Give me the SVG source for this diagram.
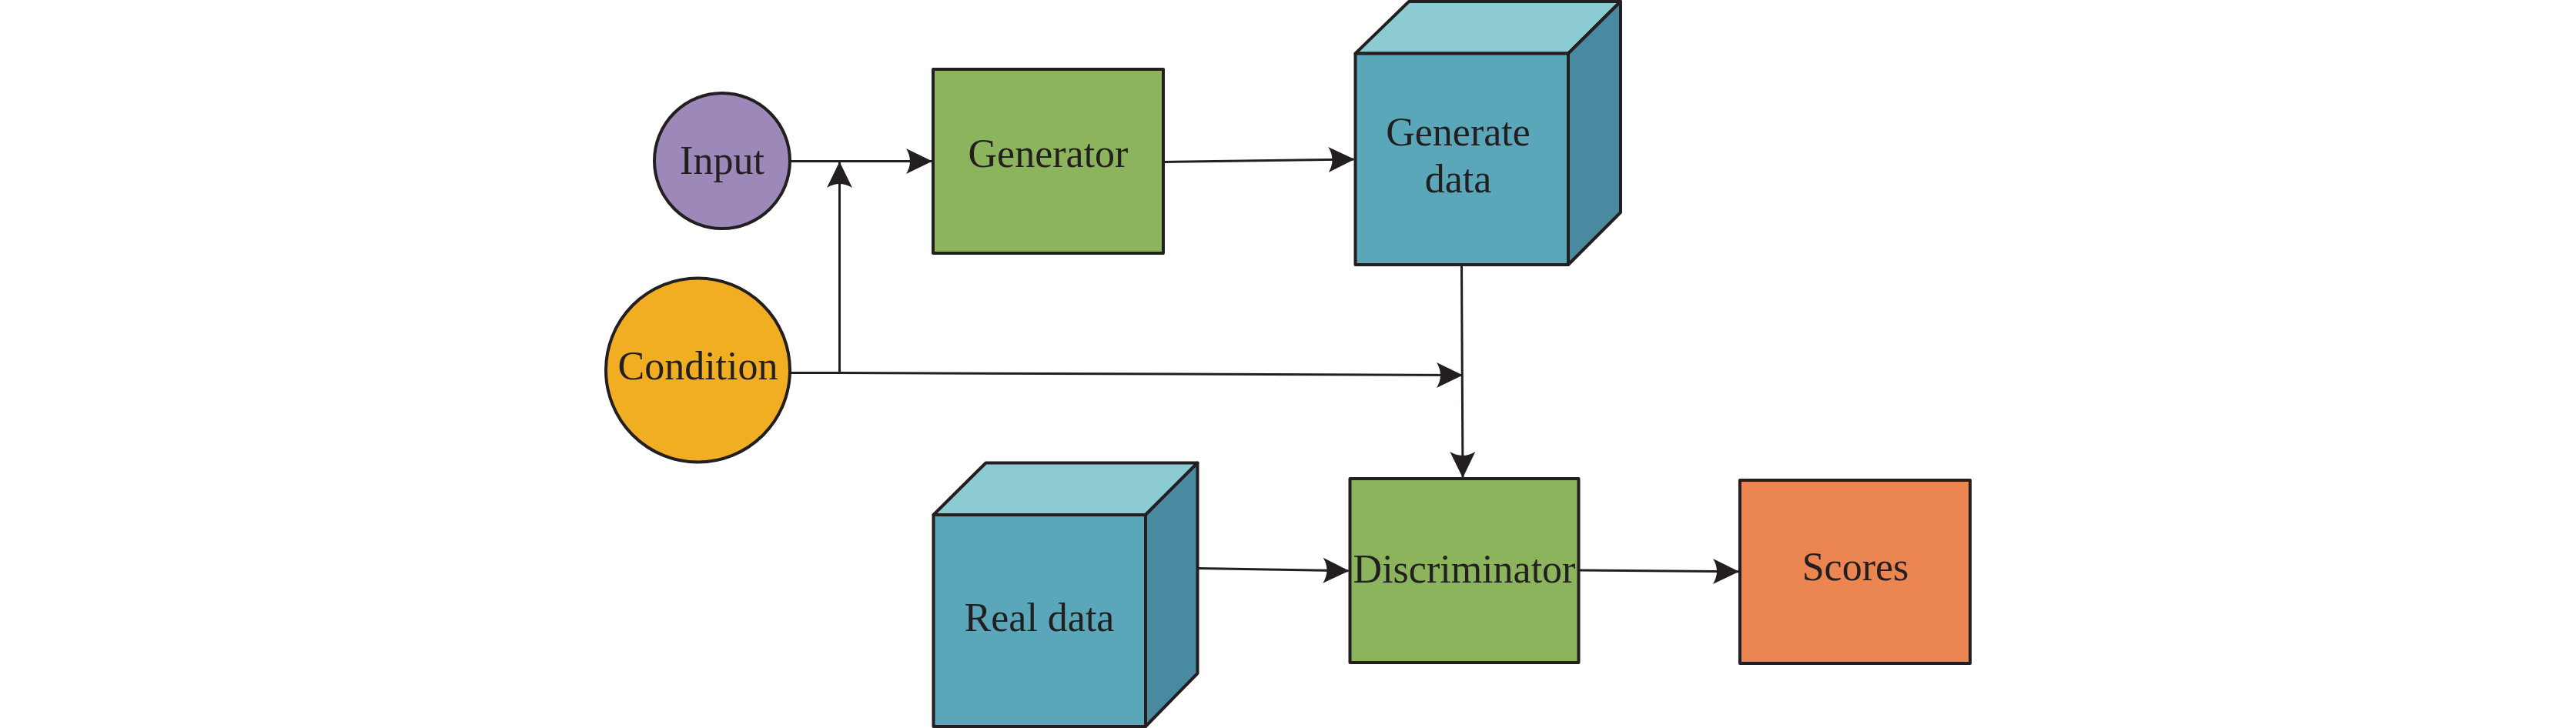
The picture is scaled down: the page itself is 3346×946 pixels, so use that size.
<svg xmlns="http://www.w3.org/2000/svg" width="3346" height="946" viewBox="0 0 3346 946">
<style>
.edge{fill:none;stroke:#231F20;stroke-width:3;marker-end:url(#arr)}
.sh{stroke:#231F20;stroke-width:4;stroke-linejoin:round}
.lbl{font-family:"Liberation Serif","Times New Roman",serif;font-size:52px;fill:#231F20;text-anchor:middle}
.green{fill:#8CB45C}
.front{fill:#5BA7BA}
.top{fill:#8DCBD2}
.side{fill:#4A8AA1}
</style>
<defs>
<marker id="arr" markerUnits="userSpaceOnUse" markerWidth="40" markerHeight="40" refX="0" refY="0" orient="auto" overflow="visible">
<path d="M1,0 L-33,-16.5 Q-23,0 -33,16.5 Z" fill="#231F20"/>
</marker>
</defs>
<rect width="3346" height="946" fill="#FFFFFF"/>
<g id="connectors">
<path class="edge" d="M1026,209.5 L1210,209.5"/>
<path class="edge" d="M1026,484.5 L1090.5,484.5 L1090.5,211"/>
<path class="edge" d="M1090.5,484.5 L1899,487.5"/>
<path class="edge" d="M1511,210.5 L1758.5,207"/>
<path class="edge" d="M1898.5,344 L1900,620"/>
<path class="edge" d="M1557,738.5 L1751.5,741.7"/>
<path class="edge" d="M2050.5,741 L2258,742.7"/>
</g>
<g id="input">
<circle class="sh" cx="938" cy="209" r="88" fill="#9C88B9"/>
<text class="lbl" x="938" y="226">Input</text>
</g>
<g id="condition">
<circle class="sh" cx="906.5" cy="481" r="119.5" fill="#F1AE23"/>
<text class="lbl" x="906.5" y="493">Condition</text>
</g>
<g id="generator">
<rect class="sh green" x="1212" y="90" width="299" height="239"/>
<text class="lbl" x="1361.5" y="216.5">Generator</text>
</g>
<g id="generate-data">
<polygon class="sh top" points="1760.5,69.5 1830,2 2105,2 2037,69.5"/>
<polygon class="sh side" points="2037,69.5 2105,2 2105,276 2037,344"/>
<rect class="sh front" x="1760.5" y="69.5" width="276.5" height="274.5"/>
<text class="lbl" x="1894" y="189">Generate</text>
<text class="lbl" x="1894" y="250">data</text>
</g>
<g id="real-data">
<polygon class="sh top" points="1212.5,669 1280.5,601.5 1555.5,601.5 1488,669"/>
<polygon class="sh side" points="1488,669 1555.5,601.5 1555.5,875 1488,944"/>
<rect class="sh front" x="1212.5" y="669" width="275.5" height="275"/>
<text class="lbl" x="1350" y="820">Real data</text>
</g>
<g id="discriminator">
<rect class="sh green" x="1753.5" y="622" width="297" height="239"/>
<text class="lbl" x="1902" y="757">Discriminator</text>
</g>
<g id="scores">
<rect class="sh" x="2260" y="624" width="299" height="238" fill="#EB8551"/>
<text class="lbl" x="2410" y="754">Scores</text>
</g>
</svg>
